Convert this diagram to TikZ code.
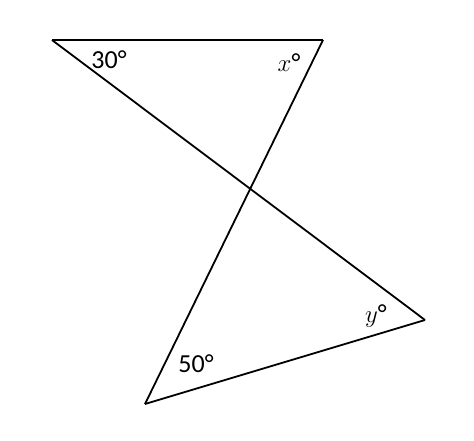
\documentclass[tikz,border=0pt]{standalone}
\usepackage{fontspec}
\setmainfont{Carlito}
\newfontfamily\varfont{Liberation Serif}
\begin{document}
\begin{tikzpicture}[x=1pt,y=-1pt,line width=1.8pt,
  lbl/.style={font=\fontsize{26}{30}\selectfont, inner sep=0pt}]
\useasboundingbox (0,0) rectangle (474,440);
\coordinate (A) at (52,40);
\coordinate (B) at (323,40);
\coordinate (C) at (425,320);
\coordinate (D) at (145,404);
\draw (A) -- (B);
\draw (A) -- (C);
\draw (B) -- (D);
\draw (D) -- (C);
\node[lbl] (a30) at (109,60) {30°};
\node[lbl] (ax) at (289,63) {$x$°};
\node[lbl] (ay) at (376,316) {$y$°};
\node[lbl] (a50) at (196,364) {50°};
\end{tikzpicture}
\end{document}
